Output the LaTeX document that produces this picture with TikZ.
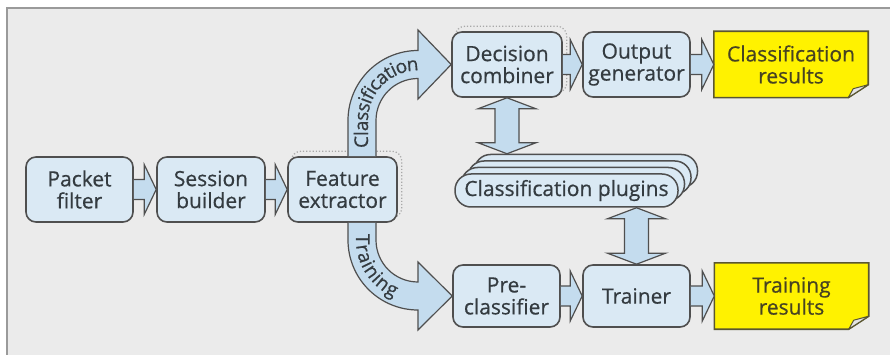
\documentclass[tikz,border=0pt]{standalone}
\usepackage{fontspec}
\setmainfont{Open Sans}[FakeBold=0.6]
\usetikzlibrary{calc,decorations.text}

\definecolor{bgfill}{HTML}{EBEBEB}
\definecolor{framegray}{HTML}{9A9A9A}
\definecolor{boxfill}{HTML}{DAE9F4}
\definecolor{arrowfill}{HTML}{C4DCEE}
\definecolor{edge}{HTML}{4F4F4F}
\definecolor{txt}{HTML}{343B40}
\definecolor{notefill}{HTML}{FFF200}
\definecolor{noteedge}{HTML}{5A5630}
\definecolor{notetxt}{HTML}{474322}
\definecolor{curl}{HTML}{E4E4E4}
\definecolor{ghost}{HTML}{A8A8A8}

\newcommand\lblfont{\fontsize{21}{22}\selectfont}
\newcommand\arrowfont{\fontsize{19}{19}\selectfont}

\pgfdeclarelayer{bg}
\pgfdeclarelayer{notes}
\pgfsetlayers{bg,notes,main}

% straight block arrow between two nodes on the same row
\newcommand\hflow[2]{%
  \draw[flowarrow] ($(#1.east |- #2.west)+(0,-10)$) -- ($(#2.west)+(-12,-10)$)
    -- ($(#2.west)+(-12,-25)$) -- (#2.west) -- ($(#2.west)+(-12,25)$)
    -- ($(#2.west)+(-12,10)$) -- ($(#1.east |- #2.west)+(0,10)$);}

% vertical double-headed block arrow between two coordinates
\newcommand\vflow[2]{%
  \draw[flowarrow] (#1) -- ($(#1)+(29,11)$) -- ($(#1)+(12,11)$)
    -- ($(#2)+(12,-11)$) -- ($(#2)+(29,-11)$) -- (#2)
    -- ($(#2)+(-29,-11)$) -- ($(#2)+(-12,-11)$)
    -- ($(#1)+(-12,11)$) -- ($(#1)+(-29,11)$) -- cycle;}

\begin{document}
\begin{tikzpicture}[x=1pt,y=-1pt,
  box/.style={draw=edge, line width=1.6pt, fill=boxfill, rounded corners=10pt,
    minimum width=107pt, minimum height=65pt, align=center, text=txt,
    font=\lblfont, inner sep=0pt},
  note/.style={minimum width=154pt, minimum height=66pt, align=center,
    text=notetxt, font=\lblfont, inner sep=0pt},
  plugbox/.style={draw=edge, line width=1.5pt, fill=boxfill, rounded corners=16pt,
    minimum width=223pt, minimum height=33pt, text=txt, font=\lblfont, inner sep=0pt},
  flowarrow/.style={draw=edge, line width=1.2pt, fill=arrowfill, line join=miter},
  noteline/.style={draw=noteedge, line width=1.6pt, fill=notefill, line join=miter},
  curlline/.style={draw=noteedge, line width=1pt, fill=curl, line join=round},
  ghostline/.style={draw=ghost, line width=1.2pt, dotted, rounded corners=10pt},
  arrowtext/.style={decorate, decoration={text along path, raise=-6pt,
    text={|\arrowfont\color{txt}|#1}}}]

\useasboundingbox (0,0) rectangle (890,355);

\begin{pgfonlayer}{bg}
  \fill[bgfill] (7,8) rectangle (890,355);
  \draw[framegray, line width=2.5pt] (7,355) -- (7,8) -- (890,8);
\end{pgfonlayer}

% processing stages
\node[box] (packet) at (79.5,189.5) {Packet\\filter};
\node[box, minimum width=108pt] (session) at (211,189.5) {Session\\builder};
\node[box, minimum width=109pt] (feature) at (342.5,189.5) {Feature\\extractor};
\node[box, minimum width=110pt] (decision) at (507,64.5) {Decision\\combiner};
\node[box] (output) at (636.5,64.5) {Output\\generator};
\node[box, minimum height=62pt] (preclass) at (506.5,296) {Pre-\\classifier};
\node[box, minimum height=62pt] (trainer) at (636.5,296) {Trainer};
\node[note] (classres) at (791,64.5) {Classification\\results};
\node[note] (trainres) at (791.5,296) {Training\\results};

% stacked plugin cards
\foreach \k in {3,2,1}
  \node[plugbox] (plug\k) at ($(566.5,190.5)+(6.5*\k,-6.5*\k)$) {};
\node[plugbox] (plugins) at (566.5,190.5) {Classification plugins};

% yellow result sheets with a curled corner, and dotted ghost outlines
\begin{pgfonlayer}{notes}
  \foreach \n in {classres,trainres} {
    \draw[noteline] (\n.north west) -- (\n.north east) -- ($(\n.south east)+(0,-13)$)
      -- ($(\n.south east)+(-20,0)$) -- (\n.south west) -- cycle;
    \draw[curlline] ($(\n.south east)+(-20,0)$) -- ($(\n.south east)+(0,-13)$)
      -- ($(\n.south east)+(-15,-9)$) -- cycle;
  }
  \foreach \n in {feature,decision}
    \draw[ghostline] ($(\n.south west)+(4,-5)$) rectangle ($(\n.north east)+(4,-5)$);
\end{pgfonlayer}

% straight flow arrows
\hflow{packet}{session}
\hflow{session}{feature}
\hflow{decision}{output}
\hflow{output}{classres}
\hflow{preclass}{trainer}
\hflow{trainer}{trainres}

% curved branch towards the decision combiner
\draw[flowarrow] ($(feature.north)+(5.5,0)$) -- (348,120.5)
  .. controls (348,81.84) and (379.34,50.5) .. (418,50.5) -- (418,30)
  -- (decision.west) -- (418,99) -- (418,78.5)
  .. controls (394.8,78.5) and (376,97.3) .. (376,120.5)
  -- ($(feature.north)+(33.5,0)$);
\path[arrowtext=Classification, decoration={text align={left indent=6pt}}]
  (362,154) -- (362,120.5) .. controls (362,89.57) and (387.07,64.5) .. (418,64.5) -- (450,64.5);

% curved branch towards the pre-classifier
\draw[flowarrow] ($(feature.south)+(5.5,0)$) -- (348,240)
  .. controls (348,278.66) and (379.34,310) .. (418,310) -- (418,330)
  -- (preclass.west) -- (418,262) -- (418,282)
  .. controls (394.8,282) and (376,263.2) .. (376,240)
  -- ($(feature.south)+(33.5,0)$);
\path[arrowtext=Training, decoration={text align={left indent=10pt}}]
  (362,224) -- (362,240) .. controls (362,270.93) and (387.07,296) .. (418,296) -- (450,296);

% exchanges with the plugins
\coordinate (dtop) at (decision.south);
\coordinate (dbot) at (decision.south |- plug3.north);
\vflow{dtop}{dbot}
\coordinate (ttop) at (trainer.north |- plugins.south);
\coordinate (tbot) at (trainer.north);
\vflow{ttop}{tbot}

\end{tikzpicture}
\end{document}
